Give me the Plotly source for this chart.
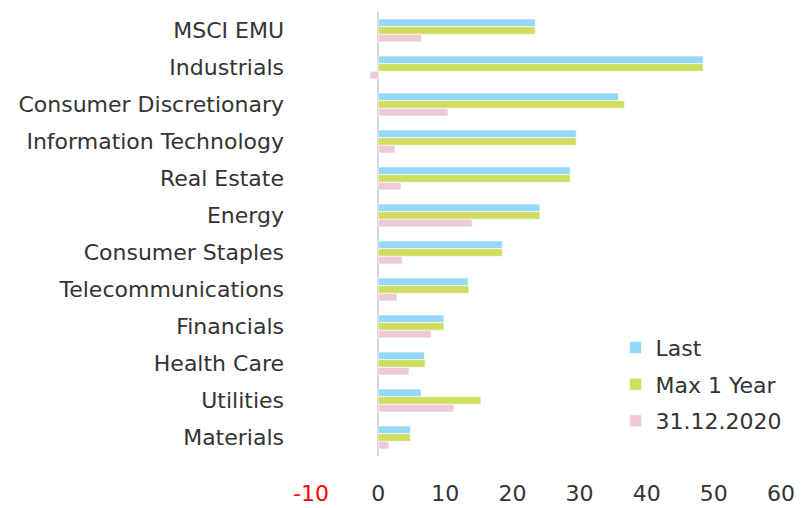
import plotly.graph_objects as go

categories = ["MSCI EMU", "Industrials", "Consumer Discretionary", "Information Technology",
              "Real Estate", "Energy", "Consumer Staples", "Telecommunications",
              "Financials", "Health Care", "Utilities", "Materials"]
last = [23.4, 48.4, 35.8, 29.5, 28.6, 24.1, 18.5, 13.4, 9.8, 6.9, 6.4, 4.8]
max_1y = [23.4, 48.4, 36.7, 29.5, 28.6, 24.1, 18.5, 13.5, 9.8, 7.0, 15.3, 4.8]
dec_2020 = [6.5, -1.2, 10.4, 2.5, 3.4, 14.0, 3.6, 2.8, 7.9, 4.6, 11.3, 1.6]
tick_vals = [-10, 0, 10, 20, 30, 40, 50, 60]
tick_text = ['<span style="color:#ff0000">-10</span>', "0", "10", "20", "30", "40", "50", "60"]

series = [("Last", last, "#95d9f8"), ("Max 1 Year", max_1y, "#cfdd60"), ("31.12.2020", dec_2020, "#eecad6")]

fig = go.Figure()
for name, vals, col in series:
    fig.add_trace(go.Bar(y=categories, x=vals, name=name, orientation="h", legendgroup=name,
                         marker=dict(color=col, line=dict(color="rgba(255,255,255,0.6)", width=1))))

font = "DejaVu Sans, sans-serif"
fig.update_layout(
    width=795, height=500,
    margin=dict(l=303, r=22, t=4, b=52),
    paper_bgcolor="white", plot_bgcolor="white",
    barmode="group", bargap=0.38, bargroupgap=0,
    font=dict(family=font, size=22, color="#333333"),
    showlegend=True,
    legend=dict(x=0.648, y=0.291, xanchor="left", yanchor="top", font=dict(size=22),
                bgcolor="rgba(0,0,0,0)", itemwidth=30, tracegroupgap=5),
    xaxis=dict(range=[-10, 60], tickvals=tick_vals, ticktext=tick_text, showgrid=False,
               zeroline=True, zerolinecolor="#d6d6d6", zerolinewidth=2, showline=False,
               ticks="", ticklabelstandoff=22, tickfont=dict(size=22), automargin=False),
    yaxis=dict(autorange="reversed", showgrid=False, showline=False, ticks="",
               ticklabelstandoff=26, tickfont=dict(size=22), automargin=False),
)
fig.write_html("out.html")
